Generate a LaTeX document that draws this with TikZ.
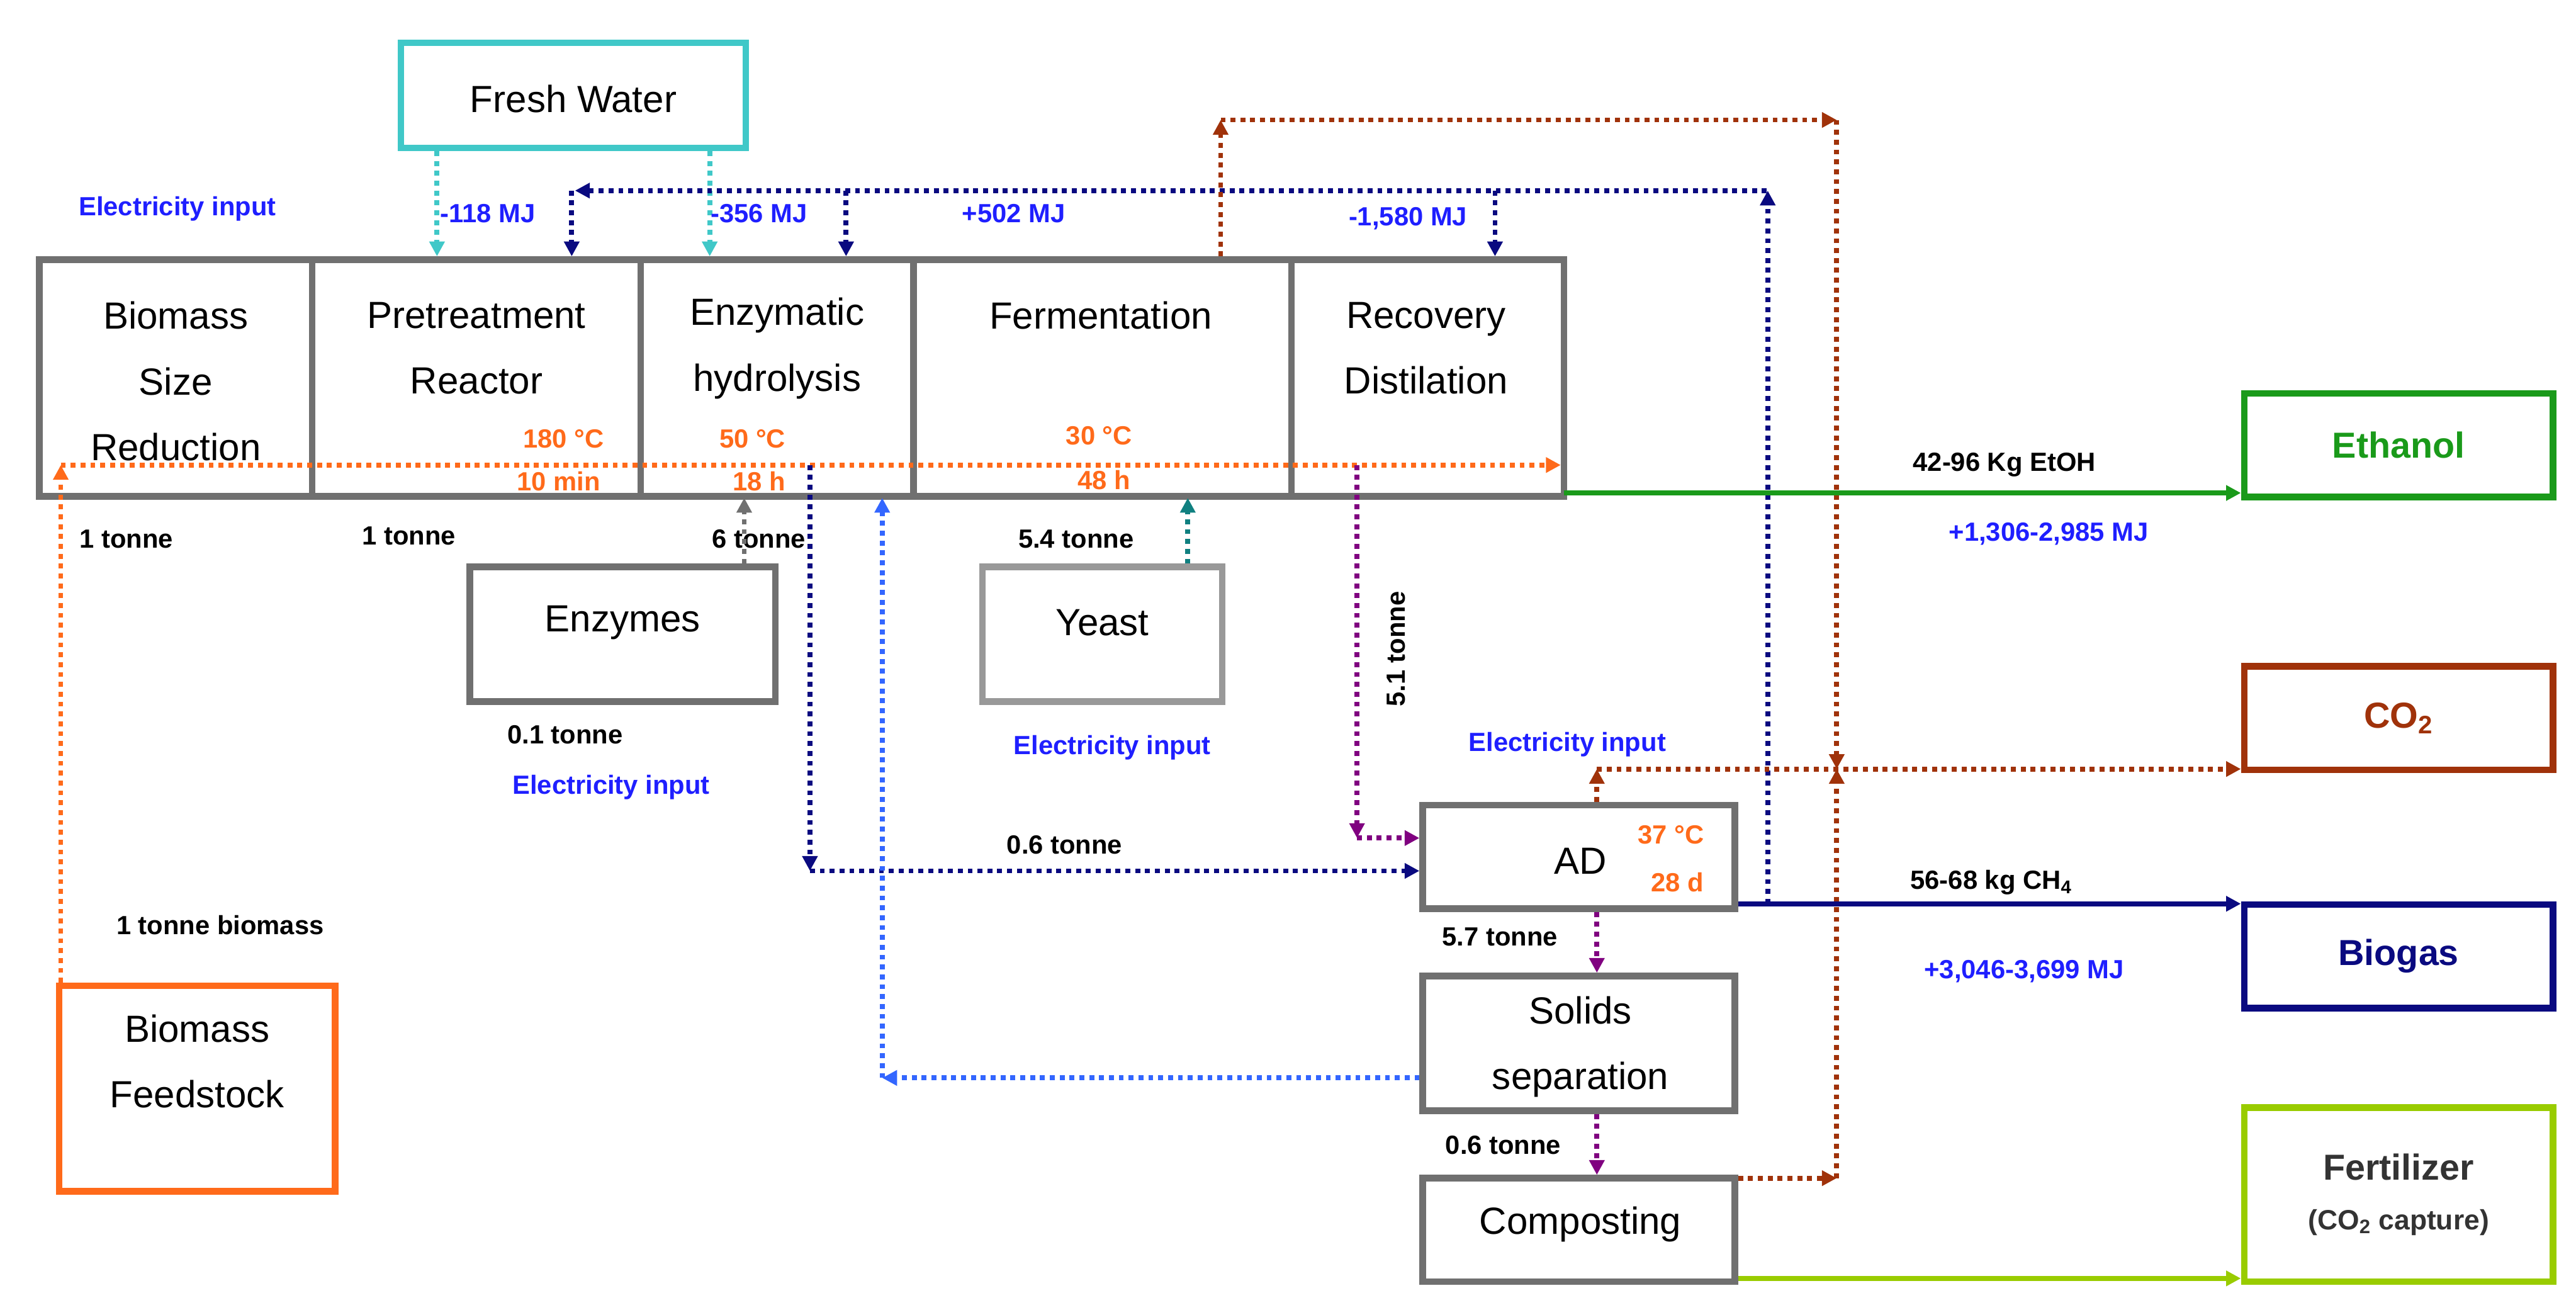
\documentclass[tikz,border=0pt]{standalone}
\usepackage{fontspec}
\setmainfont{Liberation Sans}
\usetikzlibrary{arrows.meta,calc}
\definecolor{cgray}{HTML}{707070}
\definecolor{cyanw}{HTML}{40C8C8}
\definecolor{eblue}{HTML}{1F1FFF}
\definecolor{navy}{HTML}{0A0A80}
\definecolor{torange}{HTML}{FF6A1A}
\definecolor{brownc}{HTML}{A0320A}
\definecolor{egreen}{HTML}{1A9A1A}
\definecolor{ygreen}{HTML}{99CC00}
\definecolor{purp}{HTML}{800080}
\definecolor{lblue}{HTML}{3366FF}
\definecolor{teal2}{HTML}{108080}
\begin{document}
\begin{tikzpicture}[x=1pt,y=-1pt,
 box/.style={draw=cgray,line width=4pt,inner sep=0pt},
 bt/.style={font=\fontsize{23}{40}\selectfont,align=center},
 sm/.style={font=\fontsize{16}{18}\selectfont\bfseries},
 en/.style={sm,text=eblue},
 tp/.style={sm,text=torange},
 dl/.style={line width=3pt,dash pattern=on 3pt off 3pt},
 ar/.style={-{Triangle[length=9pt,width=9pt]}},
 outbox/.style={line width=4pt,inner sep=0pt,font=\fontsize{22}{26}\selectfont\bfseries}]
\fill[white] (0,0) rectangle (1568,800);
% main boxes
\draw[box] (24,158) rectangle (952,302);
\foreach \x in {190,390,556,786} \draw[box] (\x,158)--(\x,302);
\node[bt] (bsr) at (107,232) {Biomass\\Size\\Reduction};
\node[bt] (pr) at (290,212) {Pretreatment\\Reactor};
\node[bt] (eh) at (473,212) {Enzymatic\\hydrolysis};
\node[bt] (fe) at (670,192) {Fermentation};
\node[bt] (rd) at (868,212) {Recovery\\Distilation};
\node[tp] (t1) at (343,267) {180 °C};
\node[tp] (t2) at (340,293) {10 min};
\node[tp] (t3) at (458,267) {50 °C};
\node[tp] (t4) at (462,293) {18 h};
\node[tp] (t5) at (669,265) {30 °C};
\node[tp] (t6) at (672,292) {48 h};
% fresh water
\draw[draw=cyanw,line width=4pt] (244,26) rectangle (454,90);
\node[bt] (fw) at (349,60) {Fresh Water};
\coordinate (fw1) at (266,92); \coordinate (fw2) at (432,92);
\coordinate (pt1) at (266,156); \coordinate (pt2) at (432,156);
\draw[dl,cyanw,ar] (fw1)--(pt1);
\draw[dl,cyanw,ar] (fw2)--(pt2);
% energy labels
\node[en] (ei1) at (108,127) {Electricity input};
\node[en] (m1) at (297,130) {-118 MJ};
\node[en] (m2) at (462,130) {-356 MJ};
\node[en] (m3) at (617,130) {+502 MJ};
\node[en] (m4) at (857,133) {-1,580 MJ};
% navy loop
\coordinate (n0) at (1076,550); \coordinate (n1) at (1076,116);
\coordinate (n2) at (348,116); \coordinate (n3) at (348,156);
\coordinate (n4) at (515,116); \coordinate (n5) at (515,156);
\coordinate (n6) at (910,116); \coordinate (n7) at (910,156);
\draw[dl,navy,ar] (n0)--(n1);
\draw[dl,navy,{Triangle[length=9pt,width=9pt]}-] ($(n2)+(2,0)$)--(n1);
\draw[dl,navy,ar] (n2)--(n3);
\draw[dl,navy,ar] (n4)--(n5);
\draw[dl,navy,ar] (n6)--(n7);
% orange feed
\draw[torange,line width=4pt] (36,600) rectangle (204,725);
\node[bt] (bf) at (120,646) {Biomass\\Feedstock};
\coordinate (o0) at (37,598); \coordinate (o1) at (37,283); \coordinate (o2) at (950,283);
\draw[dl,torange,ar] (o0)--(o1);
\draw[dl,torange,ar] (o1)--(o2);
\node[sm] (l1) at (134,563) {1 tonne biomass};
\node[sm] (l2) at (77,328) {1 tonne};
\node[sm] (l3) at (249,326) {1 tonne};
\node[sm] (l4) at (462,328) {6 tonne};
\node[sm] (l5) at (655,328) {5.4 tonne};
% enzymes, yeast
\draw[box] (286,345) rectangle (472,427);
\node[bt] (enz) at (379,379) {Enzymes};
\draw[draw=black!40,line width=4pt] (598,345) rectangle (744,427);
\node[bt] (ye) at (671,379) {Yeast};
\coordinate (e1) at (453,343); \coordinate (e2) at (453,303);
\draw[dl,cgray,ar] (e1)--(e2);
\coordinate (y1) at (723,343); \coordinate (y2) at (723,303);
\draw[dl,teal2,ar] (y1)--(y2);
\node[sm] (l6) at (344,447) {0.1 tonne};
\node[en] (ei2) at (372,479) {Electricity input};
\node[en] (ei3) at (677,455) {Electricity input};
\node[en] (ei4) at (954,453) {Electricity input};
% brown CO2
\coordinate (b0) at (743,156); \coordinate (b1) at (743,73); \coordinate (b2) at (1118,73);
\coordinate (b3) at (1118,468); \coordinate (b4) at (1058,717); \coordinate (b5) at (1118,717);
\coordinate (b6) at (972,488); \coordinate (b7) at (972,468); \coordinate (b8) at (1364,468);
\draw[dl,brownc,ar] (b0)--(b1);
\draw[dl,brownc,ar] (b1)--(b2);
\draw[dl,brownc,ar] (b2)--(b3);
\draw[dl,brownc,ar] (b4)--(b5);
\draw[dl,brownc,ar] (b5)--(b3);
\draw[dl,brownc,ar] (b6)--(b7);
\draw[dl,brownc,ar] (b7)--(b8);
% outputs
\node[outbox,draw=egreen,text=egreen,minimum width=188pt,minimum height=63pt] (eth) at (1460,271) {Ethanol};
\node[outbox,draw=brownc,text=brownc,minimum width=188pt,minimum height=63pt] (co2) at (1460,437) {CO\textsubscript{2}};
\node[outbox,draw=navy,text=navy,minimum width=188pt,minimum height=63pt] (bg) at (1460,582) {Biogas};
\node[outbox,draw=ygreen,text=black!80,minimum width=188pt,minimum height=106pt,align=center] (fert) at (1460,727) {Fertilizer\\[4pt]{\fontsize{17}{19}\selectfont (CO\textsubscript{2} capture)}};
\coordinate (g0) at (952,300);
\draw[egreen,line width=3pt,ar] (g0)--(eth.west|-g0);
\node[sm] (l7) at (1220,283) {42-96 Kg EtOH};
\node[en] (l8) at (1247,325) {+1,306-2,985 MJ};
\coordinate (h0) at (1056,550);
\draw[navy,line width=3pt,ar] (h0)--(bg.west|-h0);
\node[sm] (l9) at (1212,537) {56-68 kg CH\textsubscript{4}};
\node[en] (l10) at (1232,591) {+3,046-3,699 MJ};
\coordinate (f0) at (1056,778);
\draw[ygreen,line width=3pt,ar] (f0)--(fert.west|-f0);
% AD chain
\draw[box] (866,490) rectangle (1056,553);
\node[bt] (ad) at (962,524) {AD};
\node[tp] (t7) at (1017,508) {37 °C};
\node[tp] (t8) at (1021,537) {28 d};
\draw[box] (866,594) rectangle (1056,676);
\node[bt] (ss) at (962,637) {Solids\\separation};
\draw[box] (866,717) rectangle (1056,780);
\node[bt] (cp) at (962,745) {Composting};
\coordinate (p0) at (826,283); \coordinate (p1) at (826,510); \coordinate (p2) at (864,510);
\draw[dl,purp,ar] (p0)--(p1);
\draw[dl,purp,ar] (p1)--(p2);
\node[sm,rotate=90] (l11) at (850,395) {5.1 tonne};
\coordinate (q0) at (493,283); \coordinate (q1) at (493,530); \coordinate (q2) at (864,530);
\draw[dl,navy,ar] (q0)--(q1);
\draw[dl,navy,ar] (q1)--(q2);
\node[sm] (l12) at (648,514) {0.6 tonne};
\coordinate (s0) at (972,555); \coordinate (s1) at (972,592);
\draw[dl,purp,ar] (s0)--(s1);
\node[sm] (l13) at (913,570) {5.7 tonne};
\coordinate (s2) at (972,678); \coordinate (s3) at (972,715);
\draw[dl,purp,ar] (s2)--(s3);
\node[sm] (l14) at (915,697) {0.6 tonne};
\coordinate (r0) at (864,656); \coordinate (r1) at (537,656); \coordinate (r2) at (537,303);
\draw[dl,lblue,ar] (r0)--(r1);
\draw[dl,lblue,ar] (r1)--(r2);
\end{tikzpicture}
\end{document}
